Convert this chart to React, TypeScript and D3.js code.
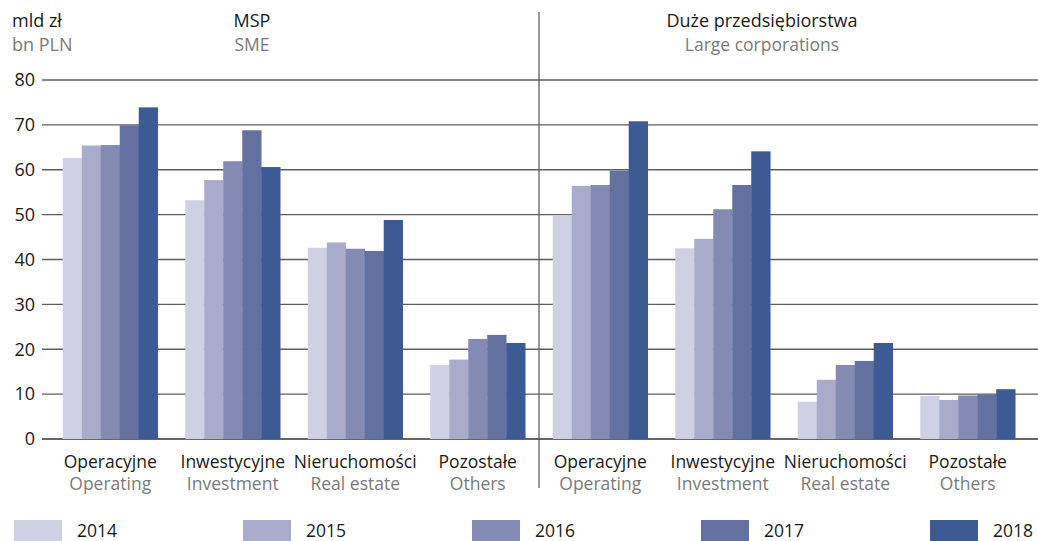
import React from "react";
import * as d3 from "d3";

const years = ["2014", "2015", "2016", "2017", "2018"];
const categoriesPL = ["Operacyjne", "Inwestycyjne", "Nieruchomości", "Pozostałe"];
const categoriesEN = ["Operating", "Investment", "Real estate", "Others"];
const segments = ["MSP", "Duże"];
const segmentTitlesPL = ["MSP", "Duże przedsiębiorstwa"];
const segmentTitlesEN = ["SME", "Large corporations"];

// values per category, per year (2014..2018)
const smeValues = [
  [62.6, 65.4, 65.5, 69.9, 73.9],
  [53.2, 57.7, 61.9, 68.8, 60.6],
  [42.6, 43.8, 42.4, 41.9, 48.8],
  [16.5, 17.7, 22.3, 23.2, 21.4],
];
const largeValues = [
  [49.9, 56.4, 56.6, 59.8, 70.8],
  [42.5, 44.6, 51.2, 56.6, 64.1],
  [8.3, 13.2, 16.5, 17.4, 21.4],
  [9.6, 8.7, 9.7, 10.0, 11.1],
];
const yTicks = [0, 10, 20, 30, 40, 50, 60, 70, 80];
const colors = ["#cfd0e3", "#a8abca", "#838ab4", "#6371a0", "#3e5a94"];

const W = 1038;
const H = 541;
const FONT = "'Open Sans', sans-serif";
const FS = 17.5;

export default function App() {
  const y = d3.scaleLinear().domain([0, 80]).range([439, 80]);
  const groups = segments.flatMap((s) => categoriesPL.map((c) => s + "|" + c));
  const x0 = d3.scaleBand<string>().domain(groups).range([49, 1029]).paddingInner(0.225).paddingOuter(0.1125);
  const x1 = d3.scaleBand<string>().domain(years).range([0, x0.bandwidth()]);
  const data = [smeValues, largeValues];

  return (
    <div style={{ position: "fixed", left: 0, top: 0 }}>
      <svg width={W} height={H} style={{ display: "block", fontFamily: FONT }}>
        <rect width={W} height={H} fill="#fff" />
        {/* header */}
        <text x={12} y={27} fontSize={18} fill="#1a1a1a">mld zł</text>
        <text x={12} y={51} fontSize={18} fill="#7a7a7a">bn PLN</text>
        {segmentTitlesPL.map((t, i) => (
          <text key={t} x={i === 0 ? 252 : 762} y={27} fontSize={18} fill="#1a1a1a" textAnchor="middle">{t}</text>
        ))}
        {segmentTitlesEN.map((t, i) => (
          <text key={t} x={i === 0 ? 252 : 762} y={51} fontSize={FS} fill="#7a7a7a" textAnchor="middle">{t}</text>
        ))}
        {/* gridlines */}
        {yTicks.map((t) => (
          <g key={t}>
            <line x1={42} x2={W} y1={y(t)} y2={y(t)} stroke={t === 0 ? "#333" : "#5e5e5e"} strokeWidth={t === 0 ? 1.6 : 1.4} />
            <text x={35} y={y(t)} dy="0.35em" fontSize={18} fill="#1a1a1a" textAnchor="end">{t}</text>
          </g>
        ))}
        {/* bars */}
        {segments.map((s, si) =>
          categoriesPL.map((c, ci) =>
            years.map((yr, yi) => {
              const v = data[si][ci][yi];
              const gx = x0(s + "|" + c)!;
              return (
                <rect
                  key={s + c + yr}
                  x={gx + x1(yr)!}
                  width={x1.bandwidth() + 0.3}
                  y={y(v)}
                  height={y(0) - y(v)}
                  fill={colors[yi]}
                />
              );
            })
          )
        )}
        {/* divider */}
        <line x1={539} x2={539} y1={12} y2={488} stroke="#555" strokeWidth={1.2} />
        {/* category labels */}
        {segments.map((s) =>
          categoriesPL.map((c, ci) => {
            const cx = x0(s + "|" + c)! + x0.bandwidth() / 2;
            return (
              <g key={s + c}>
                <text x={cx} y={468} fontSize={FS} fill="#1a1a1a" textAnchor="middle">{c}</text>
                <text x={cx} y={490} fontSize={FS} fill="#7a7a7a" textAnchor="middle">{categoriesEN[ci]}</text>
              </g>
            );
          })
        )}
        {/* legend */}
        {years.map((yr, i) => {
          const lx = 14 + i * 229;
          return (
            <g key={yr}>
              <rect x={lx} y={520} width={48} height={24} fill={colors[i]} />
              <text x={lx + 63} y={537} fontSize={17.5} fill="#1a1a1a">{yr}</text>
            </g>
          );
        })}
      </svg>
    </div>
  );
}
